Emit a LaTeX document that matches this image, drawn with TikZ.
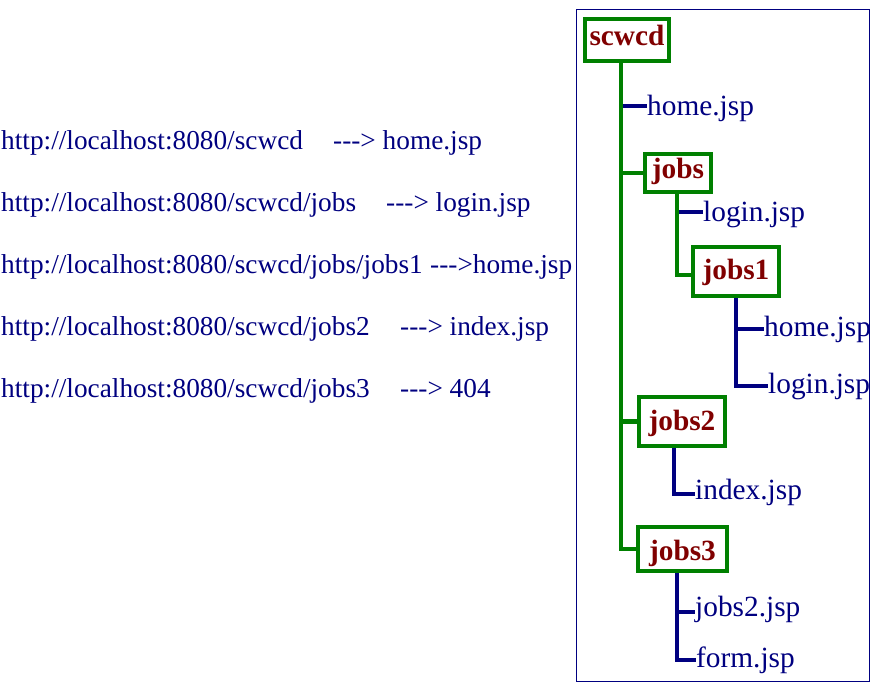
\documentclass[tikz,border=0pt]{standalone}
\usepackage{fontspec}
\newfontfamily\tnr{Liberation Serif}
\definecolor{navyc}{RGB}{0,0,128}
\definecolor{greenc}{RGB}{0,128,0}
\definecolor{maroonc}{RGB}{128,0,0}
\begin{document}
\begin{tikzpicture}[x=1pt,y=-1pt,
  url/.style={anchor=base west, inner sep=0pt, text=navyc, font=\tnr\fontsize{27.3}{32}\selectfont},
  leaf/.style={anchor=base west, inner sep=0pt, text=navyc, font=\tnr\fontsize{29.33}{35}\selectfont, text height=26pt, text depth=4pt},
  folder/.style={draw=greenc, line width=4.4pt, inner sep=0pt, text=maroonc, font=\tnr\bfseries\fontsize{29.33}{35}\selectfont},
  gl/.style={draw=greenc, line width=4.6pt},
  nl/.style={draw=navyc, line width=3.4pt}]
\useasboundingbox (0,0) rectangle (878,684);
% frame
\draw[navyc, line width=1pt] (576,10) rectangle (869,681);
% left text
\node[url] (u1) at (1,150) {\makebox[332pt][l]{http://localhost:8080/scwcd}---> home.jsp};
\node[url] (u2) at (1,212) {\makebox[385pt][l]{http://localhost:8080/scwcd/jobs}---> login.jsp};
\node[url] (u3) at (1,274) {\makebox[429pt][l]{http://localhost:8080/scwcd/jobs/jobs1}--->home.jsp};
\node[url] (u4) at (1,336) {\makebox[399pt][l]{http://localhost:8080/scwcd/jobs2}---> index.jsp};
\node[url] (u5) at (1,398) {\makebox[399pt][l]{http://localhost:8080/scwcd/jobs3}---> 404};
% folders
\node[folder, minimum width=84pt, minimum height=42pt, text height=27pt, text depth=15pt] (scwcd) at (627,40) {scwcd};
\node[folder, minimum width=66pt, minimum height=38pt, text height=25pt, text depth=13pt] (jobs) at (678,173) {jobs};
\node[folder, minimum width=86pt, minimum height=49pt, text height=33pt, text depth=16pt] (jobs1) at (736,271.5) {jobs1};
\node[folder, minimum width=86pt, minimum height=49pt, text height=33pt, text depth=16pt] (jobs2) at (682,421.5) {jobs2};
\node[folder, minimum width=89pt, minimum height=44pt, text height=33pt, text depth=11pt] (jobs3) at (682.5,549) {jobs3};
% leaves (placed by baseline)
\node[leaf] (h0) at (647,116) {home.jsp};
\node[leaf] (l1) at (703,222) {login.jsp};
\node[leaf] (h2) at (764,337) {home.jsp};
\node[leaf] (l2) at (768,394) {login.jsp};
\node[leaf] (ix) at (695,499) {index.jsp};
\node[leaf] (j2) at (695,616) {jobs2.jsp};
\node[leaf] (fm) at (696,667) {form.jsp};
% branch points on the leaves
\coordinate (h0b) at ([yshift=-1pt]h0.west);
\coordinate (l1b) at ([yshift=-1pt]l1.west);
\coordinate (h2b) at ([yshift=-3pt]h2.west);
\coordinate (l2b) at ([yshift=-3pt]l2.west);
\coordinate (ixb) at ([yshift=-6pt]ix.west);
\coordinate (j2b) at ([yshift=-7pt]j2.west);
\coordinate (fmb) at ([yshift=-4pt]fm.west);
% trunk coordinates
\coordinate (tr) at ([xshift=-6pt]scwcd.south);
\coordinate (tj) at ([xshift=-1pt]jobs.south);
\coordinate (t2) at ([xshift=-8pt]jobs2.south);
\coordinate (t3) at ([xshift=-5.5pt]jobs3.south);
\coordinate (t3b) at ([xshift=-7.5pt]jobs3.south);
% navy branches
\draw[nl] (tr |- h0b) -- (h0b);
\draw[nl] (tj |- l1b) -- (l1b);
\draw[nl] (jobs1.south) |- (l2b);
\draw[nl] (jobs1.south |- h2b) -- (h2b);
\draw[nl] (t2) |- (ixb);
\draw[nl] (t3) |- (fmb);
\draw[nl] (t3b |- j2b) -- (j2b);
% green trunks
\draw[gl] (tr) |- (jobs3.west);
\draw[gl] (tr |- jobs.west) -- (jobs.west);
\draw[gl] (tr |- jobs2.west) -- (jobs2.west);
\draw[gl] (tj) |- ([yshift=-3.5pt]jobs1.west);
\end{tikzpicture}
\end{document}
